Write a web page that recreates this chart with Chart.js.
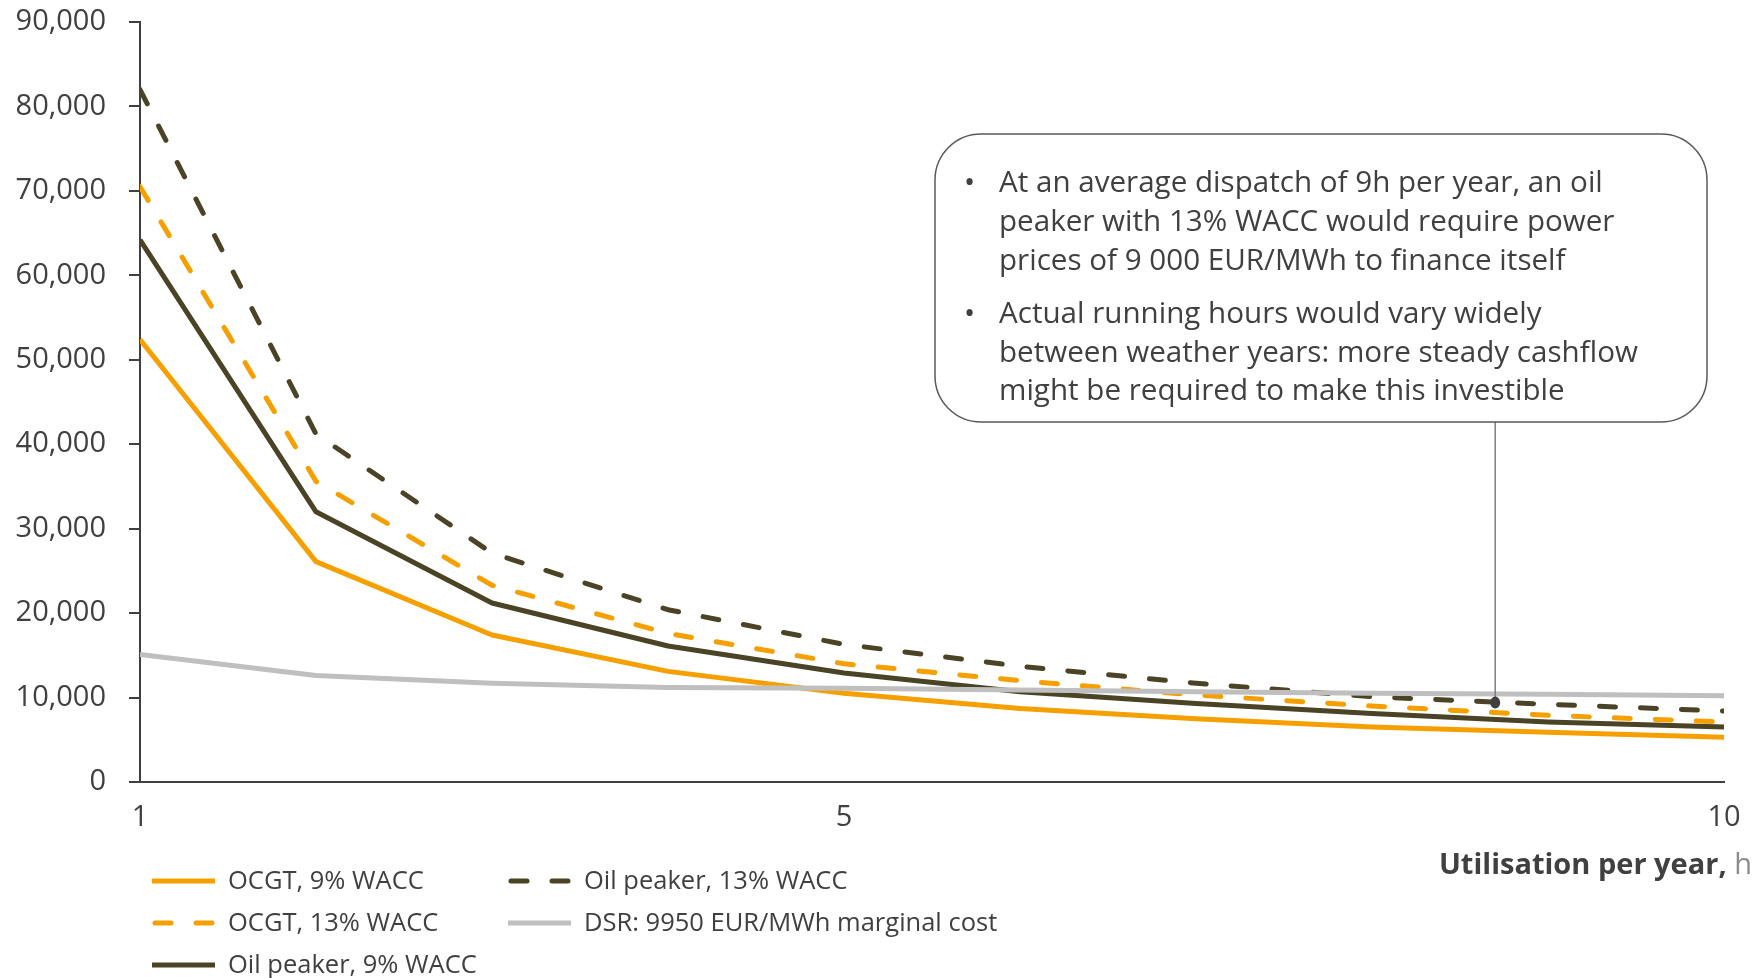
<!DOCTYPE html>
<html>
<head>
<meta charset="utf-8">
<script src="https://cdn.jsdelivr.net/npm/chart.js@4/dist/chart.umd.min.js"></script>
<style>
  html, body { margin: 0; padding: 0; background: #ffffff; }
  #wrap { position: relative; width: 1754px; height: 978px; }
</style>
</head>
<body>
<div id="wrap"><canvas id="chart"></canvas></div>
<script>
// Utilisation (hours per year) on the x axis
const hours = [1, 2, 3, 4, 5, 6, 7, 8, 9, 10];
const xTickValues = [1, 5, 10];
const yTickValues = [0, 10000, 20000, 30000, 40000, 50000, 60000, 70000, 80000, 90000];

// Required power price, EUR/MWh
const ocgt9  = [52400, 26100, 17400, 13100, 10500, 8700, 7500, 6500, 5900, 5300];
const ocgt13 = [70500, 35600, 23300, 17600, 14000, 12000, 10300, 9000, 7900, 7100];
const oil9   = [64200, 32000, 21200, 16100, 12900, 10700, 9300, 8100, 7100, 6500];
const oil13  = [82000, 41200, 27100, 20400, 16300, 13700, 11700, 10100, 9200, 8400];
const dsr    = [15100, 12600, 11700, 11200, 11100, 10900, 10700, 10500, 10400, 10200];

const seriesNames = [
  'OCGT, 9% WACC',
  'OCGT, 13% WACC',
  'Oil peaker, 9% WACC',
  'Oil peaker, 13% WACC',
  'DSR: 9950 EUR/MWh marginal cost'
];

// Callout pointing at the oil peaker (13% WACC) curve
const calloutPoint = { x: 8.7, y: 9400 };
const calloutBullets = [
  ['At an average dispatch of 9h per year, an oil',
   'peaker with 13% WACC would require power',
   'prices of 9 000 EUR/MWh to finance itself'],
  ['Actual running hours would vary widely',
   'between weather years: more steady cashflow',
   'might be required to make this investible']
];

const ORANGE = '#F5A000';
const OLIVE = '#4B4325';
const GREY = '#BFBFBF';
const TEXT = '#404040';
const FONT = '"Open Sans", "Noto Sans", sans-serif';
const DASH = [16, 25];

const toPoints = vals => hours.map((h, i) => ({ x: h, y: vals[i] }));

function series(label, vals, color, dashed, order) {
  return {
    label,
    data: toPoints(vals),
    borderColor: color,
    backgroundColor: color,
    borderWidth: 5,
    borderDash: dashed ? DASH : [],
    borderCapStyle: dashed ? 'round' : 'butt',
    borderJoinStyle: 'round',
    pointRadius: 0,
    tension: 0,
    fill: false,
    order
  };
}

const datasets = [
  series(seriesNames[0], ocgt9, ORANGE, false, 2),
  series(seriesNames[1], ocgt13, ORANGE, true, 1),
  series(seriesNames[2], oil9, OLIVE, false, 2),
  series(seriesNames[3], oil13, OLIVE, true, 1),
  series(seriesNames[4], dsr, GREY, false, 0)
];

// Two-column legend, x-axis title and callout box
const decorations = {
  id: 'decorations',
  afterDraw(chart) {
    const ctx = chart.ctx;
    const xs = chart.scales.x, ys = chart.scales.y;
    ctx.save();

    // legend
    const columns = [[0, 1, 2], [3, 4]];
    const colX = [152, 508];
    const rowY = [881, 923, 965];
    ctx.font = '25.5px ' + FONT;
    ctx.textBaseline = 'middle';
    ctx.textAlign = 'left';
    columns.forEach((col, ci) => {
      col.forEach((di, ri) => {
        const ds = chart.data.datasets[di];
        const x0 = colX[ci], y = rowY[ri];
        const dashed = ds.borderDash.length > 0;
        ctx.beginPath();
        ctx.strokeStyle = ds.borderColor;
        ctx.lineWidth = ds.borderWidth;
        ctx.lineCap = dashed ? 'round' : 'butt';
        ctx.setLineDash(dashed ? DASH : []);
        ctx.moveTo(x0 + (dashed ? 3 : 0), y);
        ctx.lineTo(x0 + 63, y);
        ctx.stroke();
        ctx.setLineDash([]);
        ctx.fillStyle = TEXT;
        ctx.fillText(ds.label, x0 + 76, y + 1);
      });
    });

    // x-axis title: bold text followed by a lighter unit
    const boldPart = 'Utilisation per year,';
    const unitPart = ' h';
    ctx.font = 'bold 29px ' + FONT;
    const wBold = ctx.measureText(boldPart).width;
    ctx.font = '29px ' + FONT;
    const wUnit = ctx.measureText(unitPart).width;
    const tx = 1752 - wBold - wUnit;
    ctx.font = 'bold 29px ' + FONT;
    ctx.fillStyle = TEXT;
    ctx.fillText(boldPart, tx, 866);
    ctx.font = '29px ' + FONT;
    ctx.fillStyle = '#8C8C8C';
    ctx.fillText(unitPart, tx + wBold, 866);

    // callout connector and marker
    const px = xs.getPixelForValue(calloutPoint.x);
    const py = ys.getPixelForValue(calloutPoint.y);
    const box = { l: 935, t: 134, r: 1707, b: 422, rad: 46 };
    ctx.beginPath();
    ctx.strokeStyle = '#7F7F7F';
    ctx.lineWidth = 1.5;
    ctx.moveTo(px, box.b);
    ctx.lineTo(px, py);
    ctx.stroke();
    ctx.beginPath();
    ctx.fillStyle = '#3F3F3F';
    ctx.ellipse(px, py, 5, 6, 0, 0, Math.PI * 2);
    ctx.fill();

    // callout box
    ctx.beginPath();
    ctx.fillStyle = '#FFFFFF';
    ctx.strokeStyle = '#595959';
    ctx.lineWidth = 1.5;
    ctx.roundRect(box.l, box.t, box.r - box.l, box.b - box.t, box.rad);
    ctx.fill();
    ctx.stroke();

    ctx.fillStyle = TEXT;
    ctx.font = '29.6px ' + FONT;
    ctx.textBaseline = 'middle';
    const lineGap = 38.8;
    let y = 184;
    calloutBullets.forEach(lines => {
      ctx.fillText('\u2022', 964, y);
      lines.forEach((ln, li) => {
        ctx.fillText(ln, 999, y + li * lineGap);
      });
      y += lines.length * lineGap + 14;
    });

    ctx.restore();
  }
};

new Chart(document.getElementById('chart'), {
  type: 'line',
  data: { datasets },
  options: {
    responsive: true,
    maintainAspectRatio: false,
    animation: false,
    layout: { padding: { top: 22, right: 30, left: 0, bottom: 0 } },
    plugins: {
      legend: { display: false },
      tooltip: { enabled: false }
    },
    scales: {
      x: {
        type: 'linear',
        min: 1,
        max: 10,
        afterBuildTicks: s => { s.ticks = xTickValues.map(v => ({ value: v })); },
        afterFit: s => { s.height = 196; s.paddingLeft = 0; s.paddingRight = 0; },
        grid: { display: true, drawOnChartArea: false, drawTicks: false },
        border: { display: true, color: '#404040', width: 2 },
        ticks: {
          color: TEXT,
          font: { family: FONT, size: 29 },
          padding: 18,
          maxRotation: 0,
          callback: v => String(v)
        }
      },
      y: {
        type: 'linear',
        min: 0,
        max: 90000,
        afterBuildTicks: s => { s.ticks = yTickValues.map(v => ({ value: v })); },
        afterFit: s => { s.width = 140; s.paddingTop = 0; s.paddingBottom = 0; },
        grid: { display: true, drawOnChartArea: false, drawTicks: true, tickLength: 11, color: '#404040', lineWidth: 2 },
        border: { display: true, color: '#404040', width: 2 },
        ticks: {
          color: TEXT,
          font: { family: FONT, size: 29 },
          padding: 23,
          callback: v => v.toLocaleString('en-US')
        }
      }
    }
  },
  plugins: [decorations]
});
</script>
</body>
</html>
